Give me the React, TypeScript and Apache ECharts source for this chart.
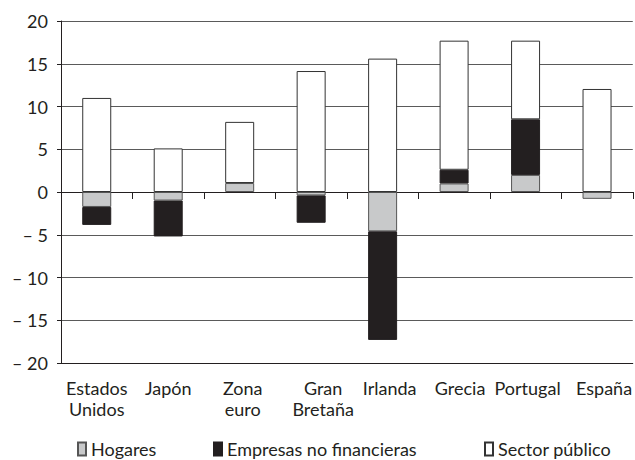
import React, { useEffect, useRef } from "react";
import * as echarts from "echarts";

const categories = [
  "Estados\nUnidos",
  "Japón",
  "Zona\neuro",
  "Gran\nBretaña",
  "Irlanda",
  "Grecia",
  "Portugal",
  "España",
];
const hogares: (number | string)[] = [-1.75, -1.0, 1.05, -0.4, -4.6, 1.0, 2.0, -0.8];
const empresas: (number | string)[] = [-2.1, -4.2, "-", -3.2, -12.7, 1.6, 6.5, "-"];
const sectorPublico: (number | string)[] = [11.0, 5.1, 7.15, 14.15, 15.6, 15.1, 9.2, 12.05];
const seriesNames = ["Hogares", "Empresas no financieras", "Sector público"];

// horizontal label nudges (px) to follow the reference layout
const labelNudge = [0, 0, 6, 24, 14, 12, 4, 14];

const FONT = "Lato";
const TXT = "#231f20";

export default function App() {
  const ref = useRef<HTMLDivElement>(null);
  useEffect(() => {
    if (!ref.current) return;
    const chart = echarts.init(ref.current, undefined, { renderer: "svg" });
    const legendBase = {
      orient: "horizontal" as const,
      top: 440,
      itemWidth: 8,
      itemHeight: 13,
      icon: "rect",
      textStyle: { fontFamily: FONT, fontSize: 18, color: TXT },
      padding: 0,
    };
    const labelData = categories.map((c, i) => ({
      value: c,
      textStyle: { padding: [0, 0, 0, labelNudge[i]] },
    }));
    chart.setOption({
      animation: false,
      backgroundColor: "#ffffff",
      grid: { left: 61, right: 1, top: 21, bottom: 97 },
      legend: [
        { ...legendBase, left: 77, data: [seriesNames[0]] },
        { ...legendBase, left: 213, data: [seriesNames[1]] },
        { ...legendBase, left: 484, data: [seriesNames[2]] },
      ],
      xAxis: [
        {
          type: "category",
          data: labelData,
          position: "bottom",
          axisLine: { onZero: false, lineStyle: { color: "#231f20", width: 1 } },
          axisTick: { show: false },
          axisLabel: {
            interval: 0,
            fontFamily: FONT,
            fontSize: 18,
            lineHeight: 21,
            color: TXT,
            margin: 14,
          },
          splitLine: { show: false },
        },
        {
          type: "category",
          data: categories,
          position: "top",
          axisLine: { onZero: true, lineStyle: { color: "#231f20", width: 1 } },
          axisTick: { show: true, inside: true, length: 7, interval: 0, lineStyle: { color: "#231f20" } },
          axisLabel: { show: false },
          splitLine: { show: false },
        },
      ],
      yAxis: {
        type: "value",
        min: -20,
        max: 20,
        interval: 5,
        axisLine: { show: true, lineStyle: { color: "#231f20", width: 1 } },
        axisTick: { show: true, length: 4, lineStyle: { color: "#231f20" } },
        axisLabel: {
          fontFamily: FONT,
          fontSize: 18,
          color: TXT,
          margin: 13,
          formatter: (v: number) => (v < 0 ? "– " + Math.abs(v) : String(v)),
        },
        splitLine: { show: true, lineStyle: { color: "#5a5a5a", width: 1 } },
      },
      series: [
        {
          name: seriesNames[0],
          type: "bar",
          stack: "total",
          data: hogares,
          barWidth: 29,
          itemStyle: { color: "#c8c9ca", borderColor: "#555555", borderWidth: 1 },
        },
        {
          name: seriesNames[1],
          type: "bar",
          stack: "total",
          data: empresas,
          barWidth: 29,
          itemStyle: { color: "#231f20", borderColor: "#231f20", borderWidth: 1 },
        },
        {
          name: seriesNames[2],
          type: "bar",
          stack: "total",
          data: sectorPublico,
          barWidth: 29,
          itemStyle: { color: "#ffffff", borderColor: "#333333", borderWidth: 1 },
        },
      ],
    });
    return () => chart.dispose();
  }, []);
  return <div ref={ref} style={{ width: 635, height: 460, position: "absolute", left: 0, top: 0 }} />;
}
